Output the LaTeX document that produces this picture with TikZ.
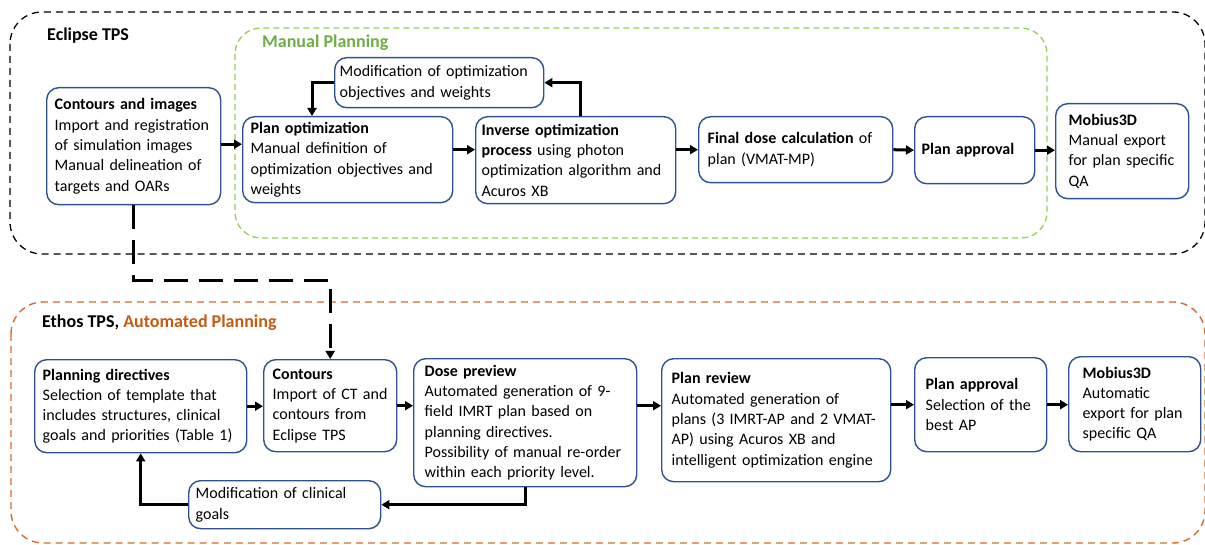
\documentclass[tikz,border=0pt]{standalone}
\usepackage{fontspec}
\setmainfont{Carlito}
\usetikzlibrary{arrows.meta}

\definecolor{boxblue}{RGB}{47,82,143}
\definecolor{mpgreen}{RGB}{146,208,80}
\definecolor{mptext}{RGB}{112,173,71}
\definecolor{aporange}{RGB}{197,90,17}
\definecolor{apline}{RGB}{212,108,48}

\begin{document}
\begin{tikzpicture}[x=1pt,y=-1pt,
  every node/.style={font=\fontsize{16}{20.3}\selectfont},
  proc/.style={draw=boxblue,line width=1.4pt,rounded corners=12pt,align=left,
    anchor=north west,inner ysep=0pt},
  title/.style={anchor=west,inner sep=0pt,font=\fontsize{18}{22}\selectfont\bfseries},
  flow/.style={line width=3pt,-{Triangle[length=8pt,width=9pt]}},
  dashflow/.style={line width=3.2pt,dash pattern=on 24pt off 11pt,-{Triangle[length=8pt,width=9pt]}}]
\useasboundingbox (0,0) rectangle (1205,545);

% containers
\draw[line width=1.3pt,dash pattern=on 7pt off 5pt,rounded corners=32pt] (10,12) rectangle (1205,254);
\draw[mpgreen,line width=1.3pt,dash pattern=on 6pt off 4pt,rounded corners=26pt] (235,28) rectangle (1047,238);
\draw[apline,line width=1.4pt,dash pattern=on 7pt off 5pt,rounded corners=32pt] (11,302) rectangle (1205,543);

\node[title] (eclipse) at (47,36) {Eclipse TPS};
\node[title,text=mptext] (manual) at (262,43) {Manual Planning};
\node[title] (ethos) at (42,323) {Ethos TPS, \textcolor{aporange}{Automated Planning}};

% Eclipse, manual planning
\node[proc,minimum width=174pt,minimum height=117pt,inner xsep=8pt,text width=158pt] (cimg) at (46,87)
  {\textbf{Contours and images}\\Import and registration\\of simulation images\\Manual delineation of\\targets and OARs};
\node[proc,minimum width=209pt,minimum height=50pt,inner xsep=5pt,text width=199pt] (modopt) at (334,57)
  {Modification of optimization\\objectives and weights};
\node[proc,minimum width=210pt,minimum height=86pt,inner xsep=8pt,text width=194pt] (planopt) at (242,116)
  {\textbf{Plan optimization}\\Manual definition of\\optimization objectives and\\weights};
\node[proc,minimum width=200pt,minimum height=87pt,inner xsep=6pt,text width=188pt] (invopt) at (475,116)
  {\textbf{Inverse optimization}\\\textbf{process} using photon\\optimization algorithm and\\Acuros XB};
\node[proc,minimum width=194pt,minimum height=66pt,inner xsep=9pt,text width=176pt] (finaldose) at (698,116)
  {\textbf{Final dose calculation} of\\plan (VMAT-MP)};
\node[proc,minimum width=120pt,minimum height=67pt,inner xsep=7pt,text width=106pt] (approveA) at (914,116)
  {\textbf{Plan approval}};
\node[proc,minimum width=133pt,minimum height=95pt,inner xsep=13pt,text width=107pt] (mobiusA) at (1055,103)
  {\textbf{Mobius3D}\\Manual export\\for plan specific\\QA};

% Ethos, automated planning
\node[proc,minimum width=212pt,minimum height=93pt,inner xsep=8pt,text width=196pt] (plandir) at (34,359)
  {\textbf{Planning directives}\\Selection of template that\\includes structures, clinical\\goals and priorities (Table 1)};
\node[proc,minimum width=133pt,minimum height=92pt,inner xsep=9pt,text width=115pt] (contours) at (263,359)
  {\textbf{Contours}\\Import of CT and\\contours from\\Eclipse TPS};
\node[proc,minimum width=223pt,minimum height=128pt,inner xsep=11pt,text width=201pt] (dosepre) at (413,358)
  {\textbf{Dose preview}\\Automated generation of 9-\\field IMRT plan based on\\planning directives.\\Possibility of manual re-order\\within each priority level.};
\node[proc,minimum width=192pt,minimum height=48pt,inner xsep=7pt,text width=178pt] (modclin) at (188,480)
  {Modification of clinical\\goals};
\node[proc,minimum width=229pt,minimum height=123pt,inner xsep=10pt,text width=209pt] (review) at (661,358)
  {\textbf{Plan review}\\Automated generation of\\plans (3 IMRT-AP and 2 VMAT-\\AP) using Acuros XB and\\intelligent optimization engine};
\node[proc,minimum width=132pt,minimum height=94pt,inner xsep=11pt,text width=110pt] (approveB) at (914,357)
  {\textbf{Plan approval}\\Selection of the\\best AP};
\node[proc,minimum width=132pt,minimum height=95pt,inner xsep=14pt,text width=104pt] (mobiusB) at (1068,356)
  {\textbf{Mobius3D}\\Automatic\\export for plan\\specific QA};

% connectors, top
\draw[flow] ([yshift=2pt]cimg.east) -- ([yshift=2pt]cimg.east -| planopt.west);
\draw[flow] ([yshift=10pt]planopt.east) -- ([yshift=10pt]planopt.east -| invopt.west);
\draw[flow] (finaldose.west -| invopt.east) -- (finaldose.west);
\draw[flow] (finaldose.east) -- (approveA.west);
\draw[flow] (approveA.east) -- (approveA.east -| mobiusA.west);
\draw[flow] ([xshift=105pt]invopt.north west) |- (modopt.east);
\draw[flow] (modopt.west) -| ([xshift=70pt]planopt.north west);

% Eclipse contours go to Ethos
\draw[dashflow] (cimg.south) -- ++(0,75) -| (contours.north);

% connectors, bottom
\draw[flow] (plandir.east) -- (plandir.east -| contours.west);
\draw[flow] (contours.east) -- (contours.east -| dosepre.west);
\draw[flow] (dosepre.east |- contours.east) -- (review.west |- contours.east);
\draw[flow] (review.east |- approveB.west) -- (approveB.west);
\draw[flow] (approveB.east) -- (approveB.east -| mobiusB.west);
\draw[flow] (dosepre.south) |- (modclin.east);
\draw[flow] (modclin.west) -| (plandir.south);
\end{tikzpicture}
\end{document}
